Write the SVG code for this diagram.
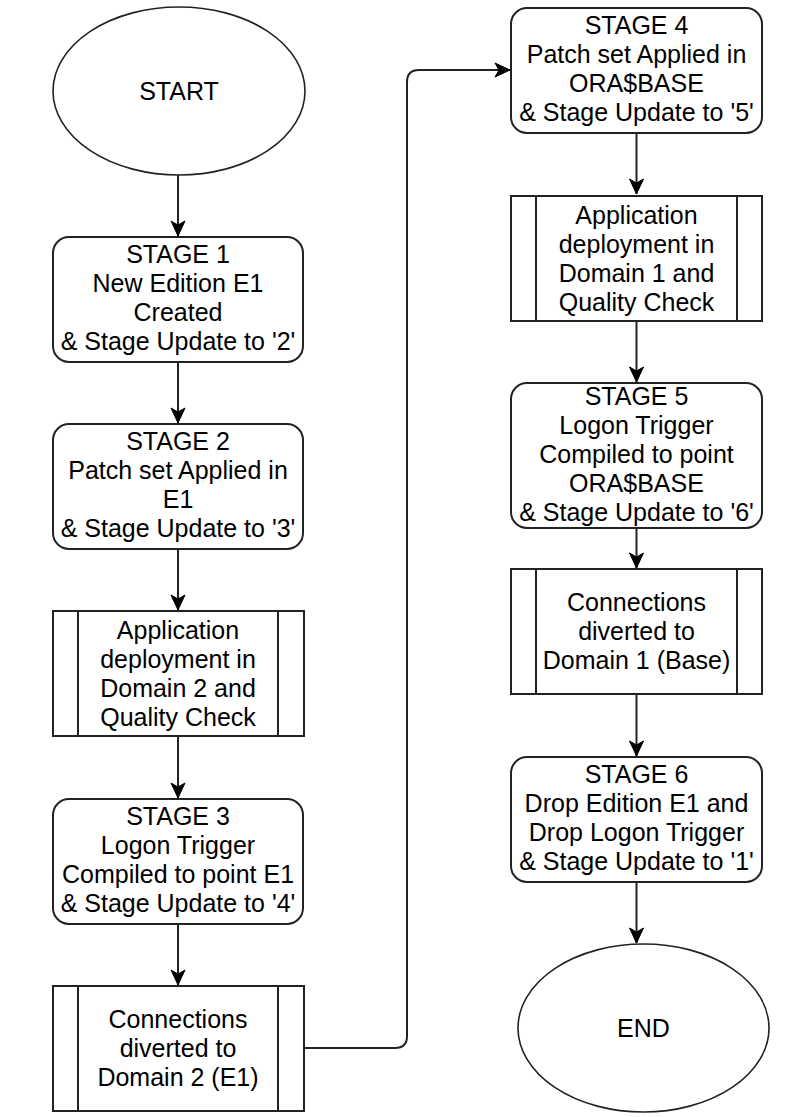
<svg xmlns="http://www.w3.org/2000/svg" width="804" height="1117" viewBox="0 0 804 1117">
<style>
.shape{fill:#fff;stroke:#222;stroke-width:2}
.term{fill:#fff;stroke:#222;stroke-width:1.6}
.inner{fill:none;stroke:#222;stroke-width:2}
.conn{fill:none;stroke:#222;stroke-width:2}
text{font-family:"Liberation Sans",Arial,sans-serif;font-size:25px;fill:#000;text-anchor:middle;dominant-baseline:central}
</style>
<defs>
<marker id="arr" markerUnits="userSpaceOnUse" markerWidth="18" markerHeight="18" refX="16" refY="9" orient="auto">
<path d="M1,2 L16,9 L1,16 L5,9 z" fill="#000" stroke="#000" stroke-width="1"/>
</marker>
</defs>
<g id="connectors">
<path class="conn" d="M178,175 V236" marker-end="url(#arr)"/>
<path class="conn" d="M178,362 V423" marker-end="url(#arr)"/>
<path class="conn" d="M178,549 V610" marker-end="url(#arr)"/>
<path class="conn" d="M178,736 V798" marker-end="url(#arr)"/>
<path class="conn" d="M178,924 V985" marker-end="url(#arr)"/>
<path class="conn" d="M304,1048 H395 Q407,1048 407,1036 V82 Q407,70 419,70 H510" marker-end="url(#arr)"/>
<path class="conn" d="M636.5,133 V194" marker-end="url(#arr)"/>
<path class="conn" d="M636.5,321 V382" marker-end="url(#arr)"/>
<path class="conn" d="M636.5,528 V568" marker-end="url(#arr)"/>
<path class="conn" d="M636.5,694 V756" marker-end="url(#arr)"/>
<path class="conn" d="M636.5,882 V943" marker-end="url(#arr)"/>
</g>
<g id="start">
<ellipse class="term" cx="179" cy="91" rx="126" ry="84"/>
<text x="179" y="91">START</text>
</g>
<g id="stage1">
<rect class="shape" x="53" y="237" width="250" height="125" rx="16"/>
<text x="178" y="254">STAGE 1</text>
<text x="178" y="283">New Edition E1</text>
<text x="178" y="312">Created</text>
<text x="178" y="341">&amp; Stage Update to '2'</text>
</g>
<g id="stage2">
<rect class="shape" x="53" y="424" width="250" height="125" rx="16"/>
<text x="178" y="441">STAGE 2</text>
<text x="178" y="470">Patch set Applied in</text>
<text x="178" y="499">E1</text>
<text x="178" y="528">&amp; Stage Update to '3'</text>
</g>
<g id="deploy2">
<rect class="shape" x="53" y="611" width="251" height="125"/>
<path class="inner" d="M78,611 V736 M278,611 V736"/>
<text x="178" y="630">Application</text>
<text x="178" y="659">deployment in</text>
<text x="178" y="688">Domain 2 and</text>
<text x="178" y="717">Quality Check</text>
</g>
<g id="stage3">
<rect class="shape" x="53" y="799" width="250" height="125" rx="16"/>
<text x="178" y="816">STAGE 3</text>
<text x="178" y="845">Logon Trigger</text>
<text x="178" y="874">Compiled to point E1</text>
<text x="178" y="903">&amp; Stage Update to '4'</text>
</g>
<g id="divert2">
<rect class="shape" x="53" y="986" width="251" height="125"/>
<path class="inner" d="M78,986 V1111 M278,986 V1111"/>
<text x="178" y="1019">Connections</text>
<text x="178" y="1048">diverted to</text>
<text x="178" y="1077">Domain 2 (E1)</text>
</g>
<g id="stage4">
<rect class="shape" x="511" y="8" width="251" height="125" rx="16"/>
<text x="636.5" y="25">STAGE 4</text>
<text x="636.5" y="54">Patch set Applied in</text>
<text x="636.5" y="83">ORA$BASE</text>
<text x="636.5" y="112">&amp; Stage Update to '5'</text>
</g>
<g id="deploy1">
<rect class="shape" x="511" y="196" width="251" height="125"/>
<path class="inner" d="M536,196 V321 M737,196 V321"/>
<text x="636.5" y="215">Application</text>
<text x="636.5" y="244">deployment in</text>
<text x="636.5" y="273">Domain 1 and</text>
<text x="636.5" y="302">Quality Check</text>
</g>
<g id="stage5">
<rect class="shape" x="511" y="383" width="251" height="145" rx="16"/>
<text x="636.5" y="396">STAGE 5</text>
<text x="636.5" y="425">Logon Trigger</text>
<text x="636.5" y="454">Compiled to point</text>
<text x="636.5" y="483">ORA$BASE</text>
<text x="636.5" y="512">&amp; Stage Update to '6'</text>
</g>
<g id="divert1">
<rect class="shape" x="511" y="569" width="251" height="125"/>
<path class="inner" d="M536,569 V694 M737,569 V694"/>
<text x="636.5" y="602">Connections</text>
<text x="636.5" y="631">diverted to</text>
<text x="636.5" y="660">Domain 1 (Base)</text>
</g>
<g id="stage6">
<rect class="shape" x="511" y="757" width="251" height="125" rx="16"/>
<text x="636.5" y="774">STAGE 6</text>
<text x="636.5" y="803">Drop Edition E1 and</text>
<text x="636.5" y="832">Drop Logon Trigger</text>
<text x="636.5" y="861">&amp; Stage Update to '1'</text>
</g>
<g id="end">
<ellipse class="term" cx="643.5" cy="1028" rx="125.5" ry="84"/>
<text x="643.5" y="1028">END</text>
</g>
</svg>
